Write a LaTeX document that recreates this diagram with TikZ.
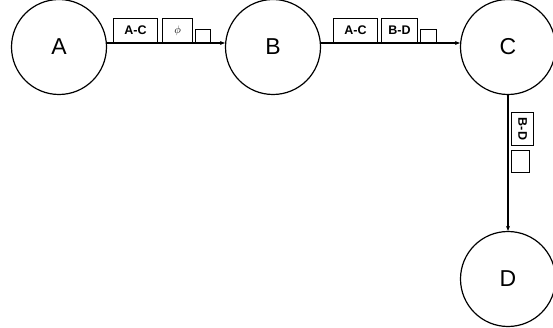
\documentclass[tikz,border=0pt]{standalone}
\usepackage{fontspec}
\setmainfont{Liberation Sans}
\usetikzlibrary{arrows.meta}
\begin{document}
\begin{tikzpicture}[x=1pt,y=-1pt,
  state/.style={circle,draw,line width=1.2pt,minimum size=95pt,inner sep=0pt,font=\fontsize{23}{23}\selectfont},
  lbl/.style={draw,line width=1.1pt,anchor=south west,inner sep=0pt,font=\fontsize{12.5}{12.5}\selectfont\bfseries},
  conn/.style={line width=1.1pt,-{Stealth[length=5pt,width=4pt]}}]
\useasboundingbox (0,0) rectangle (553,328);
\node[state] (A) at (59,47) {A};
\node[state] (B) at (273,47) {B};
\node[state] (C) at (508,47) {C};
\node[state] (D) at (508,279) {D};
\draw[conn] (A.east |- 0,43) coordinate (a1) -- (B.west |- 0,43);
\draw[conn] (B.east |- 0,43) -- (C.west |- 0,43);
\draw[conn] (C) ++(0,47) coordinate (c1) -- (D.north);
% A-B labels
\node[lbl,minimum width=44pt,minimum height=24pt] (ab1) at (113,43) {\raisebox{-1.5pt}{A-C}};
\node[lbl,minimum width=30pt,minimum height=24pt,font=\fontsize{11}{11}\selectfont] (ab2) at (162,43) {\raisebox{-1.5pt}{$\phi$}};
\node[lbl,minimum width=15pt,minimum height=13pt] (ab3) at (195,43) {};
% B-C labels
\node[lbl,minimum width=44pt,minimum height=24pt] (bc1) at (333,43) {\raisebox{-1.5pt}{A-C}};
\node[lbl,minimum width=36pt,minimum height=24pt] (bc2) at (381,43) {\raisebox{-1.5pt}{B-D}};
\node[lbl,minimum width=16pt,minimum height=13pt] (bc3) at (420,43) {};
% C-D labels
\node[draw,line width=1.1pt,anchor=north west,inner sep=0pt,minimum width=22pt,minimum height=33pt] (cd1) at (511,112) {};
\node[rotate=-90,font=\fontsize{12.5}{12.5}\selectfont\bfseries] at (cd1.center) {B-D};
\node[draw,line width=1.1pt,anchor=north west,inner sep=0pt,minimum width=18pt,minimum height=22pt] (cd2) at (511,150) {};
\end{tikzpicture}
\end{document}
